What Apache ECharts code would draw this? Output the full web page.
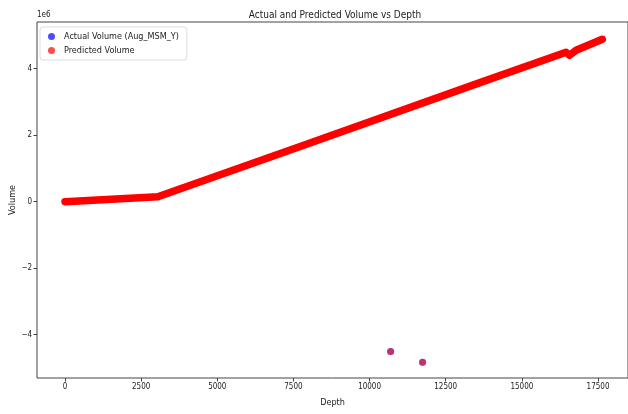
<!DOCTYPE html>
<html>
<head>
<meta charset="utf-8">
<script src="https://cdn.jsdelivr.net/npm/echarts@6/dist/echarts.min.js"></script>
<style>
html,body{margin:0;padding:0;background:#fff;}
#chart{width:628px;height:414px;}
</style>
</head>
<body>
<div id="chart"></div>
<script>
// Knots of the main (actual ≈ predicted) curve
const depthKnots      = [0, 3050, 8000, 13600, 16450, 16560, 16650, 16780, 17640];
const actualVolume    = [0.00e6, 0.15e6, 1.75e6, 3.57e6, 4.49e6, 4.40e6, 4.46e6, 4.55e6, 4.88e6];
const predictedVolume = [0.00e6, 0.15e6, 1.75e6, 3.57e6, 4.49e6, 4.40e6, 4.46e6, 4.55e6, 4.88e6];
// Two isolated outlier points
const outlierDepth     = [10690, 11740];
const outlierActual    = [-4.50e6, -4.83e6];
const outlierPredicted = [-4.50e6, -4.83e6];
// Tick values
const xTicks = [0, 2500, 5000, 7500, 10000, 12500, 15000, 17500];
const yTicks = [-4e6, -2e6, 0, 2e6, 4e6];

const FONT = "'DejaVu Sans Condensed', 'Liberation Sans Narrow', 'DejaVu Sans'";
const pair = (xs, ys) => xs.map((x, i) => [x, ys[i]]);
const fmtY = v => { const n = Math.round(v / 1e6); return n < 0 ? '\u2212' + (-n) : String(n); };

const chart = echarts.init(document.getElementById('chart'), null, {renderer: 'canvas'});
chart.setOption({
  animation: false,
  backgroundColor: '#fff',
  textStyle: {fontFamily: FONT},
  title: {
    text: 'Actual and Predicted Volume vs Depth',
    left: 330, top: 5, textAlign: 'center',
    textStyle: {fontFamily: FONT, fontSize: 10, fontWeight: 'normal', color: '#222'}
  },
  legend: {
    orient: 'vertical', left: 40, top: 27,
    padding: [5, 8, 5, 8], itemGap: 5,
    backgroundColor: '#fff', borderColor: '#ddd', borderWidth: 1, borderRadius: 3,
    itemWidth: 7, itemHeight: 7,
    textStyle: {fontFamily: FONT, fontSize: 9, color: '#222', padding: [0, 0, 0, 4]},
    data: [
      {name: 'Actual Volume (Aug_MSM_Y)', icon: 'circle', itemStyle: {color: 'rgba(0,0,255,0.7)'}},
      {name: 'Predicted Volume', icon: 'circle', itemStyle: {color: 'rgba(255,0,0,0.7)'}}
    ]
  },
  grid: {left: 37, top: 22, width: 591, height: 356, show: true, borderColor: '#444', borderWidth: 1,
         containLabel: false, outerBoundsMode: 'none'},
  xAxis: {
    type: 'value', min: -919, max: 18484,
    name: 'Depth', nameLocation: 'middle', nameGap: 20, nameMoveOverlap: false,
    nameTextStyle: {fontFamily: FONT, fontSize: 9, color: '#222'},
    splitLine: {show: false},
    axisLine: {show: false, onZero: false},
    axisTick: {show: true, inside: false, length: 3.5, customValues: xTicks, lineStyle: {color: '#444'}},
    axisLabel: {customValues: xTicks, formatter: v => String(v), fontFamily: FONT, fontSize: 8, color: '#222', margin: 5}
  },
  yAxis: {
    type: 'value', min: -5.30e6, max: 5.40e6,
    name: 'Volume', nameLocation: 'middle', nameGap: 20, nameRotate: 90, nameMoveOverlap: false,
    nameTextStyle: {fontFamily: FONT, fontSize: 9, color: '#222'},
    splitLine: {show: false},
    axisLine: {show: false, onZero: false},
    axisTick: {show: true, inside: false, length: 3.5, customValues: yTicks, lineStyle: {color: '#444'}},
    axisLabel: {customValues: yTicks, formatter: fmtY, fontFamily: FONT, fontSize: 8, color: '#222', margin: 5}
  },
  graphic: [{
    type: 'text', left: 37, top: 11,
    style: {text: '1e6', fontFamily: FONT, fontSize: 8, fill: '#222'}
  }],
  series: [
    {
      name: 'Actual Volume (Aug_MSM_Y)', type: 'line', data: pair(depthKnots, actualVolume),
      showSymbol: false, symbol: 'none', z: 1,
      lineStyle: {color: 'rgb(40,40,255)', width: 6, cap: 'round', join: 'round'}
    },
    {
      name: 'Actual Volume (Aug_MSM_Y)', type: 'scatter', data: pair(outlierDepth, outlierActual),
      symbol: 'circle', symbolSize: 7, z: 2,
      itemStyle: {color: 'rgba(0,0,255,0.7)'}
    },
    {
      name: 'Predicted Volume', type: 'line', data: pair(depthKnots, predictedVolume),
      showSymbol: false, symbol: 'none', z: 3,
      lineStyle: {color: 'rgb(255,0,0)', width: 7.5, cap: 'round', join: 'round'}
    },
    {
      name: 'Predicted Volume', type: 'scatter', data: pair(outlierDepth, outlierPredicted),
      symbol: 'circle', symbolSize: 7, z: 4,
      itemStyle: {color: 'rgba(255,0,0,0.7)'}
    }
  ]
});
</script>
</body>
</html>
